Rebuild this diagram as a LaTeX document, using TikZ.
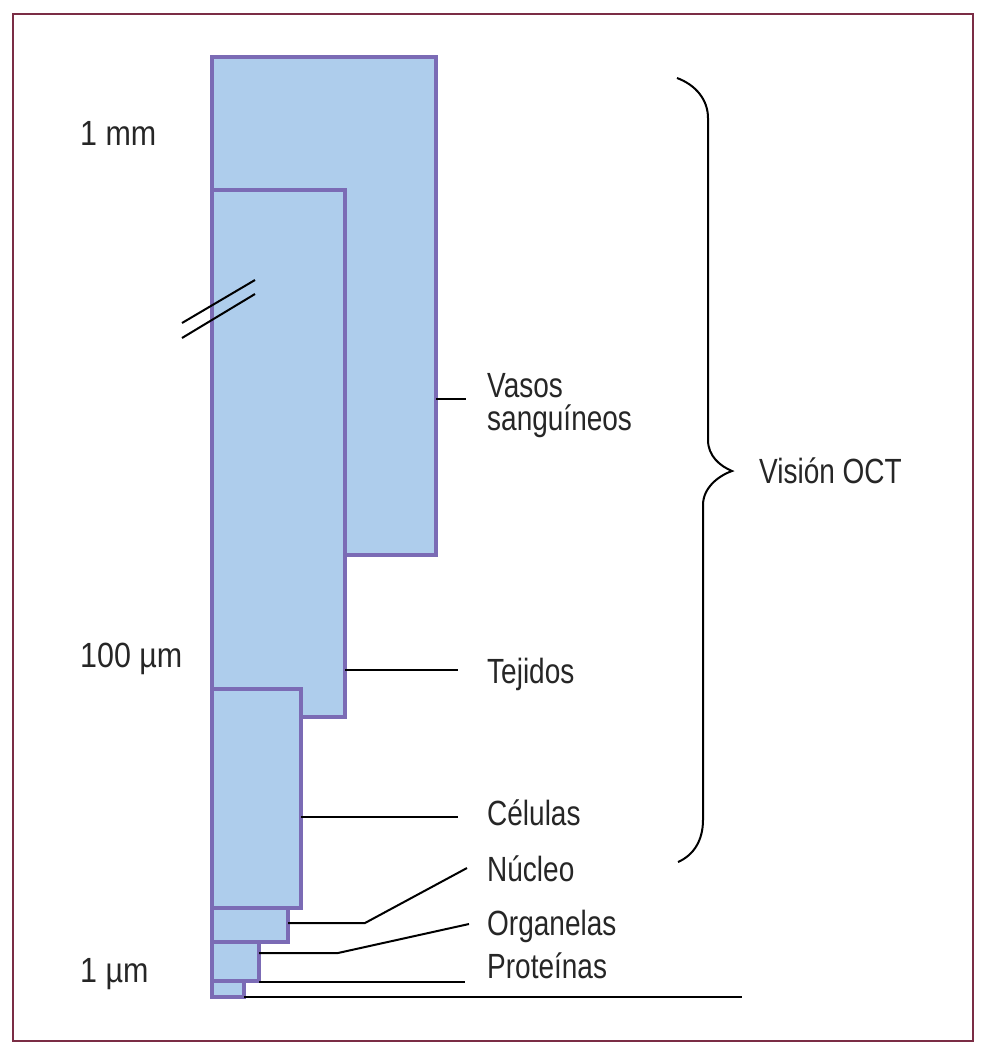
\documentclass[tikz,border=0pt]{standalone}
\usepackage{fontspec}
\setmainfont[FakeStretch=0.8]{Liberation Sans}
\newfontfamily\scalefont[FakeStretch=0.87]{Liberation Sans}
\definecolor{boxfill}{HTML}{AECDEC}
\definecolor{boxline}{HTML}{7B6BB5}
\definecolor{frame}{HTML}{7B2D45}
\begin{document}
\begin{tikzpicture}[x=1pt,y=-1pt,
  box/.style={draw=boxline, fill=boxfill, line width=3.5pt, rectangle, inner sep=0pt, outer sep=0pt, anchor=north west},
  conn/.style={draw=black, line width=2pt},
  lbl/.style={inner sep=0pt, anchor=base west, font=\fontsize{35}{42}\selectfont, text=black!85},
  scl/.style={lbl, font=\scalefont\fontsize{35}{42}\selectfont}
]
\useasboundingbox (0,0) rectangle (991,1050);
\draw[frame, line width=2pt] (13,14) rectangle (973,1041);

% boxes
\node[box, minimum width=224, minimum height=498] (b1) at (212,57) {};
\node[box, minimum width=133, minimum height=527] (b2) at (212,190) {};
\node[box, minimum width=89, minimum height=219] (b3) at (212,689) {};
\node[box, minimum width=76, minimum height=34] (b4) at (212,908) {};
\node[box, minimum width=47, minimum height=39] (b5) at (212,942) {};
\node[box, minimum width=32, minimum height=16] (b6) at (212,981) {};

% break marks
\draw[conn] (182,323) -- (255,280);
\draw[conn] (182,338) -- (255,294);

% connector ends
\coordinate (vl) at (466,399);
\coordinate (tl) at (458,670);
\coordinate (cl) at (458,817);
\coordinate (nk) at (365,923);
\coordinate (nl) at (467,868);
\coordinate (ok) at (338,953);
\coordinate (ol) at (469,924);
\coordinate (pl) at (465,982);
\coordinate (bl) at (742,997);

\draw[conn] (b1.east |- vl) -- (vl);
\draw[conn] (b2.east |- tl) -- (tl);
\draw[conn] (b3.east |- cl) -- (cl);
\draw[conn] (b4.east |- nk) -- (nk) -- (nl);
\draw[conn] (b5.east |- ok) -- (ok) -- (ol);
\draw[conn] (b5.east |- pl) -- (pl);
\draw[conn] (b6.south east) -- (bl);

% labels
\node[lbl] (vasos) at (487,397) {Vasos};
\node[lbl] (sang) at (487,430) {sanguíneos};
\node[lbl] (tej) at (487,683) {Tejidos};
\node[lbl] (cel) at (487,825) {Células};
\node[lbl] (nuc) at (487,881) {Núcleo};
\node[lbl] (org) at (487,935) {Organelas};
\node[lbl] (pro) at (487,978) {Proteínas};
\node[lbl] (oct) at (759,483) {Visión OCT};

\node[scl] (mm) at (80,145) {1 mm};
\node[scl] (um100) at (80,667) {100 µm};
\node[scl] (um1) at (80,982) {1 µm};

% brace
\draw[conn] (677,78) .. controls (696,85) and (708,100) .. (708,118)
  -- (708,440) .. controls (708,456) and (720,466) .. (732,471)
  .. controls (718,476) and (703,488) .. (703,505)
  -- (703,820) .. controls (703,840) and (694,855) .. (678,862);
\end{tikzpicture}
\end{document}
